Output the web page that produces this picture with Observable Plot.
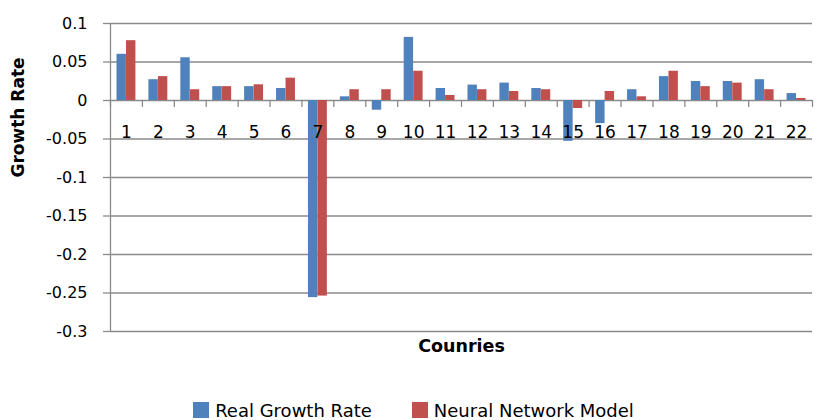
<!DOCTYPE html>
<html>
<head>
<meta charset="utf-8">
<script src="https://cdn.jsdelivr.net/npm/d3@7"></script>
<script src="https://cdn.jsdelivr.net/npm/@observablehq/plot@0.6"></script>
<style>
  html, body { margin: 0; padding: 0; background: #fff; }
  #legend { display: flex; justify-content: center; align-items: center; height: 30px;
    font-family: "DejaVu Sans", sans-serif; font-size: 18px; color: #000; }
  .item { display: flex; align-items: center; }
  .sw { width: 16px; height: 16px; margin-right: 6px; }
</style>
</head>
<body>
<div id="chart"></div>
<div id="legend"></div>
<script>
const countries = [1,2,3,4,5,6,7,8,9,10,11,12,13,14,15,16,17,18,19,20,21,22];
const realGrowth = [0.060,0.027,0.0555,0.018,0.018,0.0156,-0.256,0.0048,-0.0126,0.082,0.0156,0.020,0.0226,0.0156,-0.053,-0.030,0.014,0.031,0.0247,0.0247,0.027,0.009];
const neuralModel = [0.0777,0.031,0.014,0.018,0.0204,0.029,-0.254,0.014,0.014,0.038,0.0065,0.014,0.0117,0.014,-0.0104,0.0117,0.0048,0.038,0.018,0.0226,0.014,0.0026];
const seriesNames = ["Real Growth Rate", "Neural Network Model"];
const seriesColors = ["#4F81BD", "#C0504D"];
const yTicks = [0.1, 0.05, 0, -0.05, -0.1, -0.15, -0.2, -0.25, -0.3];
const xTitle = "Counries";
const yTitle = "Growth Rate";

const rows = countries.map((c, i) => ({country: c, real: realGrowth[i], neural: neuralModel[i]}));
const boundaries = countries.map(c => c - 0.5).concat([countries[countries.length - 1] + 0.5]);
const gray = "#8a8a8a";
const font = "DejaVu Sans, sans-serif";

const chart = Plot.plot({
  width: 827,
  height: 395,
  marginLeft: 110,
  marginRight: 15,
  marginTop: 23,
  marginBottom: 64,
  style: {fontFamily: font, background: "#fff"},
  x: {type: "linear", domain: [boundaries[0], boundaries[boundaries.length - 1]], axis: null},
  y: {domain: [-0.3, 0.1], axis: null},
  marks: [
    Plot.gridY(yTicks, {stroke: gray, strokeOpacity: 1, strokeWidth: 1.3}),
    Plot.ruleX([boundaries[0]], {stroke: gray, strokeWidth: 1.3}),
    Plot.ruleX(boundaries, {y1: 0, y2: -0.009, stroke: gray, strokeWidth: 1.3}),
    Plot.rectY(rows, {x1: d => d.country - 0.5, x2: d => d.country + 0.5, y1: 0, y2: "real",
      fill: seriesColors[0], insetLeft: 6.5, insetRight: 16}),
    Plot.rectY(rows, {x1: d => d.country - 0.5, x2: d => d.country + 0.5, y1: 0, y2: "neural",
      fill: seriesColors[1], insetLeft: 16, insetRight: 6.5}),
    Plot.text(countries, {x: d => d, y: () => 0, dy: 32, fontSize: 17, fill: "#000", fontFamily: font}),
    Plot.axisY(yTicks, {tickSize: 7, tickPadding: 16, stroke: gray, strokeWidth: 1.3, fontSize: 16, fill: "#000",
      tickFormat: d => d === 0 ? "0" : String(Math.round(d * 100) / 100), label: null}),
    Plot.text([xTitle], {frameAnchor: "bottom", dy: 20, fontSize: 17.5, fontWeight: "bold", fill: "#000", fontFamily: font}),
    Plot.text([yTitle], {frameAnchor: "left", dx: -92, rotate: -90, fontSize: 17, fontWeight: "bold", fill: "#000", fontFamily: font})
  ]
});
document.getElementById("chart").appendChild(chart);

const legend = document.getElementById("legend");
seriesNames.forEach((name, i) => {
  const item = document.createElement("div");
  item.className = "item";
  if (i > 0) item.style.marginLeft = "40px";
  const sw = document.createElement("div");
  sw.className = "sw";
  sw.style.background = seriesColors[i];
  const label = document.createElement("span");
  label.textContent = name;
  item.appendChild(sw);
  item.appendChild(label);
  legend.appendChild(item);
});
</script>
</body>
</html>
